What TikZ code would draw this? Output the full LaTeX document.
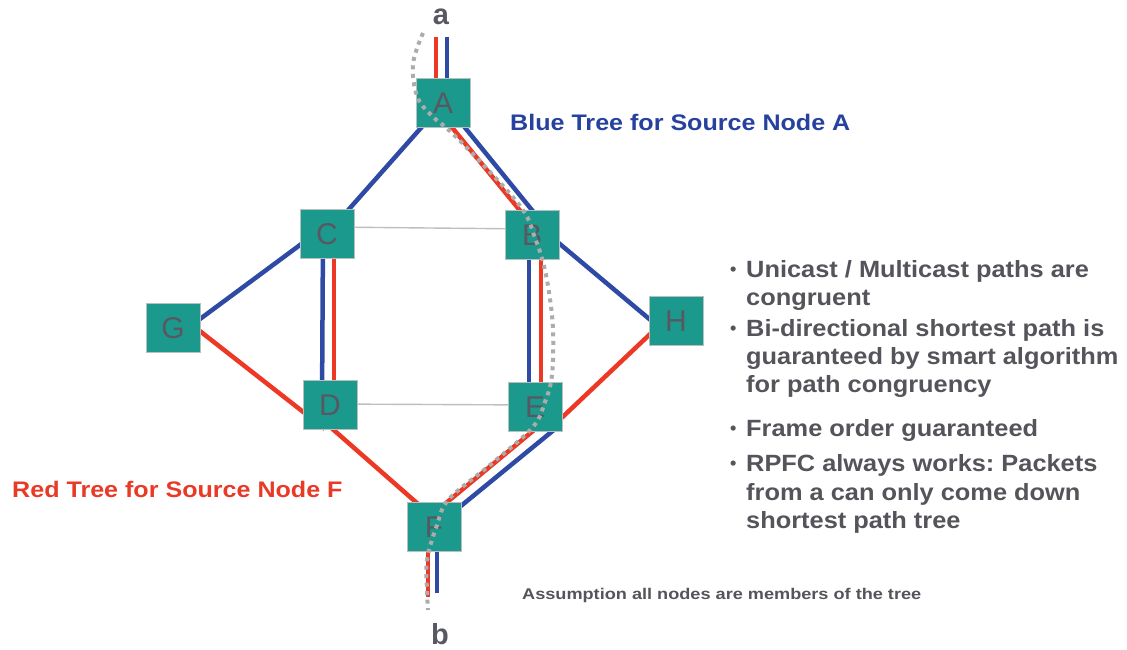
\documentclass[tikz,border=0pt]{standalone}
\usepackage{fontspec}
\setmainfont{Liberation Sans}
\newfontfamily\titlefont[FakeStretch=1.115]{Liberation Sans}
\newfontfamily\bodyfont[FakeStretch=1.08]{Liberation Sans}
\newfontfamily\notefont[FakeStretch=1.17]{Liberation Sans}
\usetikzlibrary{calc,backgrounds}
\definecolor{routerfill}{RGB}{27,153,140}
\definecolor{routeredge}{RGB}{185,190,190}
\definecolor{lblgray}{RGB}{88,88,98}
\definecolor{treeblue}{RGB}{46,74,164}
\definecolor{treered}{RGB}{236,56,36}
\definecolor{titleblue}{RGB}{38,66,158}
\definecolor{titlered}{RGB}{232,58,38}
\definecolor{crossgray}{RGB}{190,190,190}
\definecolor{dotgray}{RGB}{172,172,172}
\definecolor{bodygray}{RGB}{84,84,90}
\frenchspacing
\begin{document}
\begin{tikzpicture}[x=1pt,y=-1pt,
  router/.style={draw=routeredge, line width=1pt, fill=routerfill,
    minimum width=54pt, minimum height=49pt, inner sep=0pt,
    font=\fontsize{30}{30}\selectfont, text=lblgray},
  bluelink/.style={draw=treeblue, line width=4.5pt},
  redlink/.style={draw=treered, line width=4.5pt},
  crosslink/.style={draw=crossgray, line width=1.4pt},
  trace/.style={draw=dotgray, line width=4pt, dash pattern=on 4pt off 4.5pt},
  endlabel/.style={inner sep=0pt, font=\fontsize{29}{29}\bfseries\selectfont, text=lblgray},
  treetitle/.style={anchor=base west, inner sep=0pt, font=\titlefont\fontsize{22.5}{26}\bfseries\selectfont},
  bodyline/.style={anchor=base west, inner sep=0pt, font=\bodyfont\fontsize{23.5}{28}\bfseries\selectfont, text=bodygray},
  dotmark/.style={anchor=base west, inner sep=0pt, font=\fontsize{18}{28}\bfseries\selectfont, text=bodygray},
  note/.style={anchor=base west, inner sep=0pt, font=\notefont\fontsize{15.5}{18}\bfseries\selectfont, text=bodygray}]
\useasboundingbox (0,0) rectangle (1127,650);

% routers
\node[router] (A) at (443,103) {A};
\node[router] (C) at (327,234) {C};
\node[router] (B) at (532,235) {B};
\node[router] (G) at (173,328) {G};
\node[router] (H) at (676,321) {H};
\node[router] (D) at (330,405) {D};
\node[router] (E) at (535,407) {E};
\node[router] (F) at (434,527) {F};

% ends of the tree
\node[endlabel] (la) at (441,17) {a};
\node[endlabel] (lb) at (440,634) {b};
\coordinate (aR) at (436,37);
\coordinate (aB) at (447,37);
\coordinate (bR) at (428,597);
\coordinate (bB) at (437,593);

\begin{scope}[on background layer]
  % plain links between the two branches
  \draw[crosslink] ($(C)+(0,-7)$) -- ($(B)+(0,-6)$);
  \draw[crosslink] ($(D)+(0,-1)$) -- ($(E)+(0,-2)$);
  % blue tree (source A)
  \draw[bluelink] (aB) -- (aB |- A.center);
  \draw[bluelink] (A.center) -- (C.center);
  \draw[bluelink] ($(A)+(2,0)$) -- ($(B)+(8,-15)$);
  \draw[bluelink] ($(B)+(10,-6)$) -- ($(H)+(-10,12)$);
  \draw[bluelink] ($(C)+(0,-9)$) -- ($(G)+(0,11)$);
  \draw[bluelink] ($(C)+(-4,0)$) -- ($(D)+(-8,0)$);
  \draw[bluelink] ($(B)+(-3,0)$) -- ($(E)+(-6,0)$);
  \draw[bluelink] ($(E)+(20,22)$) -- ($(F)+(11,-8)$);
  \draw[bluelink] (bB |- F.center) -- (bB);
  % red tree (source F)
  \draw[redlink] (aR) -- (aR |- A.center);
  \draw[redlink] ($(A)+(-11,0)$) -- ($(B)+(8,0)$);
  \draw[redlink] ($(C)+(7,0)$) -- ($(D)+(4,0)$);
  \draw[redlink] ($(B)+(9,0)$) -- ($(E)+(6,0)$);
  \draw[redlink] ($(G)+(0,-18)$) -- ($(D)+(-5,24)$);
  \draw[redlink] ($(D)+(-10,13)$) -- ($(F)+(0,-9)$);
  \draw[redlink] ($(E)+(17,20)$) -- ($(H)+(-10,-2)$);
  \draw[redlink] ($(E)+(10,14)$) -- ($(F)+(0,-14)$);
  \draw[redlink] (bR |- F.center) -- (bR);
\end{scope}

% shortest path from a to b
\draw[trace] plot[smooth, tension=0.6] coordinates {
  (423,33) (413,64) (417,96) (431,115) (452,133) (490,172) (523,210)
  (535,238) (543,262) (549,292) (553,330) (552,375) (545,402) (532,428)
  (490,465) (449,499) (437,525) (427,560) (427,590) (428,610)};

% titles
\node[treetitle, text=titleblue] (tblue) at (510,131) {Blue Tree for Source Node A};
\node[treetitle, text=titlered] (tred) at (12,497) {Red Tree for Source Node F};

% bullet list
\node[dotmark] (d1) at (730,275) {\textbullet};
\node[bodyline] (l1) at (746,277) {Unicast / Multicast paths are};
\node[bodyline] (l2) at (746,305) {congruent};
\node[dotmark] (d2) at (730,334) {\textbullet};
\node[bodyline] (l3) at (746,336) {Bi-directional shortest path is};
\node[bodyline] (l4) at (746,364) {guaranteed by smart algorithm};
\node[bodyline] (l5) at (746,392) {for path congruency};
\node[dotmark] (d3) at (730,434) {\textbullet};
\node[bodyline] (l6) at (746,436) {Frame order guaranteed};
\node[dotmark] (d4) at (730,469) {\textbullet};
\node[bodyline] (l7) at (746,471) {RPFC always works: Packets};
\node[bodyline] (l8) at (746,500) {from a can only come down};
\node[bodyline] (l9) at (746,528) {shortest path tree};

\node[note] (n1) at (522,599) {Assumption all nodes are members of the tree};
\end{tikzpicture}
\end{document}
